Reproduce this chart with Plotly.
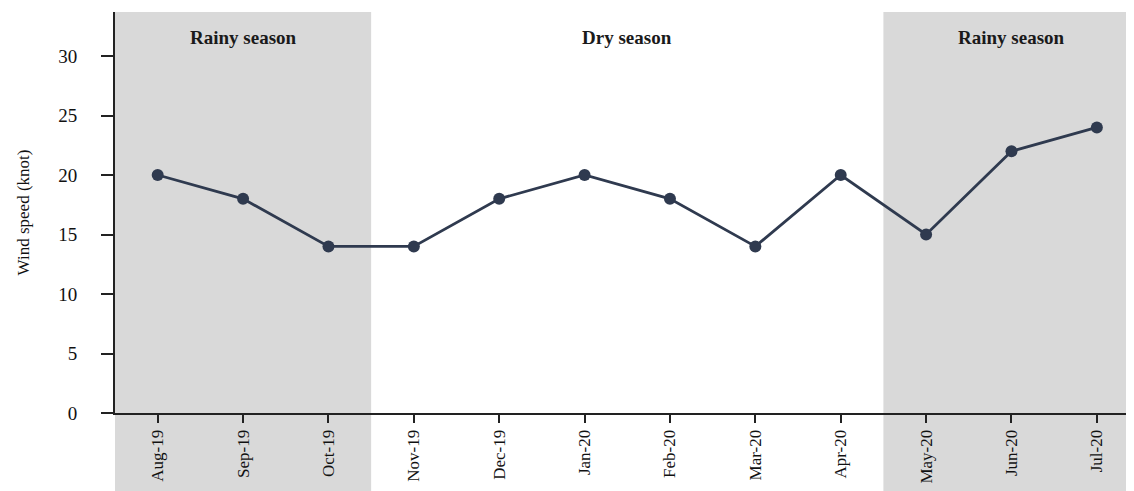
import plotly.graph_objects as go

months = ["Aug-19", "Sep-19", "Oct-19", "Nov-19", "Dec-19", "Jan-20",
          "Feb-20", "Mar-20", "Apr-20", "May-20", "Jun-20", "Jul-20"]
wind_speed = [20, 18, 14, 14, 18, 20, 18, 14, 20, 15, 22, 24]
y_ticks = [0, 5, 10, 15, 20, 25, 30]

seasons = [
    {"label": "Rainy season", "start": 0, "end": 2, "shaded": True},
    {"label": "Dry season", "start": 3, "end": 8, "shaded": False},
    {"label": "Rainy season", "start": 9, "end": 11, "shaded": True},
]

FONT = "Liberation Serif"
LINE_COLOR = "#2f3a4f"

fig = go.Figure()
fig.add_trace(go.Scatter(
    x=list(range(len(months))), y=wind_speed, mode="lines+markers",
    line=dict(color=LINE_COLOR, width=2.8),
    marker=dict(color=LINE_COLOR, size=12),
    showlegend=False, hoverinfo="skip",
))

shapes = []
annotations = []
for s in seasons:
    if s["shaded"]:
        shapes.append(dict(type="rect", xref="x", yref="paper",
                           x0=s["start"] - 0.5, x1=s["end"] + 0.5,
                           y0=-0.2, y1=1, fillcolor="#d9d9d9",
                           line=dict(width=0), layer="below"))
    annotations.append(dict(x=(s["start"] + s["end"]) / 2, xref="x",
                            y=0.937, yref="paper", text="<b>" + s["label"] + "</b>",
                            showarrow=False, yanchor="middle",
                            font=dict(family=FONT, size=19, color="#1a1a1a")))

fig.update_layout(
    width=1126, height=483,
    margin=dict(l=107, r=0, t=4, b=78),
    paper_bgcolor="white", plot_bgcolor="rgba(0,0,0,0)",
    shapes=shapes, annotations=annotations,
    font=dict(family=FONT, color="#111"),
    xaxis=dict(
        tickmode="array", tickvals=list(range(len(months))), ticktext=months,
        range=[-0.5, 11.435], tickangle=-90, tickson="boundaries",
        ticks="outside", ticklen=8, tickwidth=2, tickcolor="#222",
        showline=True, linecolor="#222", linewidth=2,
        showgrid=False, zeroline=False,
        tickfont=dict(family=FONT, size=17, color="#111"),
    ),
    yaxis=dict(
        range=[0, 33.7], tickvals=y_ticks,
        ticks="outside", ticklen=12, tickwidth=2, tickcolor="#222",
        showline=True, linecolor="#222", linewidth=2,
        showgrid=False, zeroline=False, ticklabelstandoff=20,
        tickfont=dict(family=FONT, size=19, color="#111"),
        title=dict(text="Wind speed (knot)", font=dict(family=FONT, size=17, color="#111"),
                   standoff=24),
    ),
)

fig.write_html("out.html")
